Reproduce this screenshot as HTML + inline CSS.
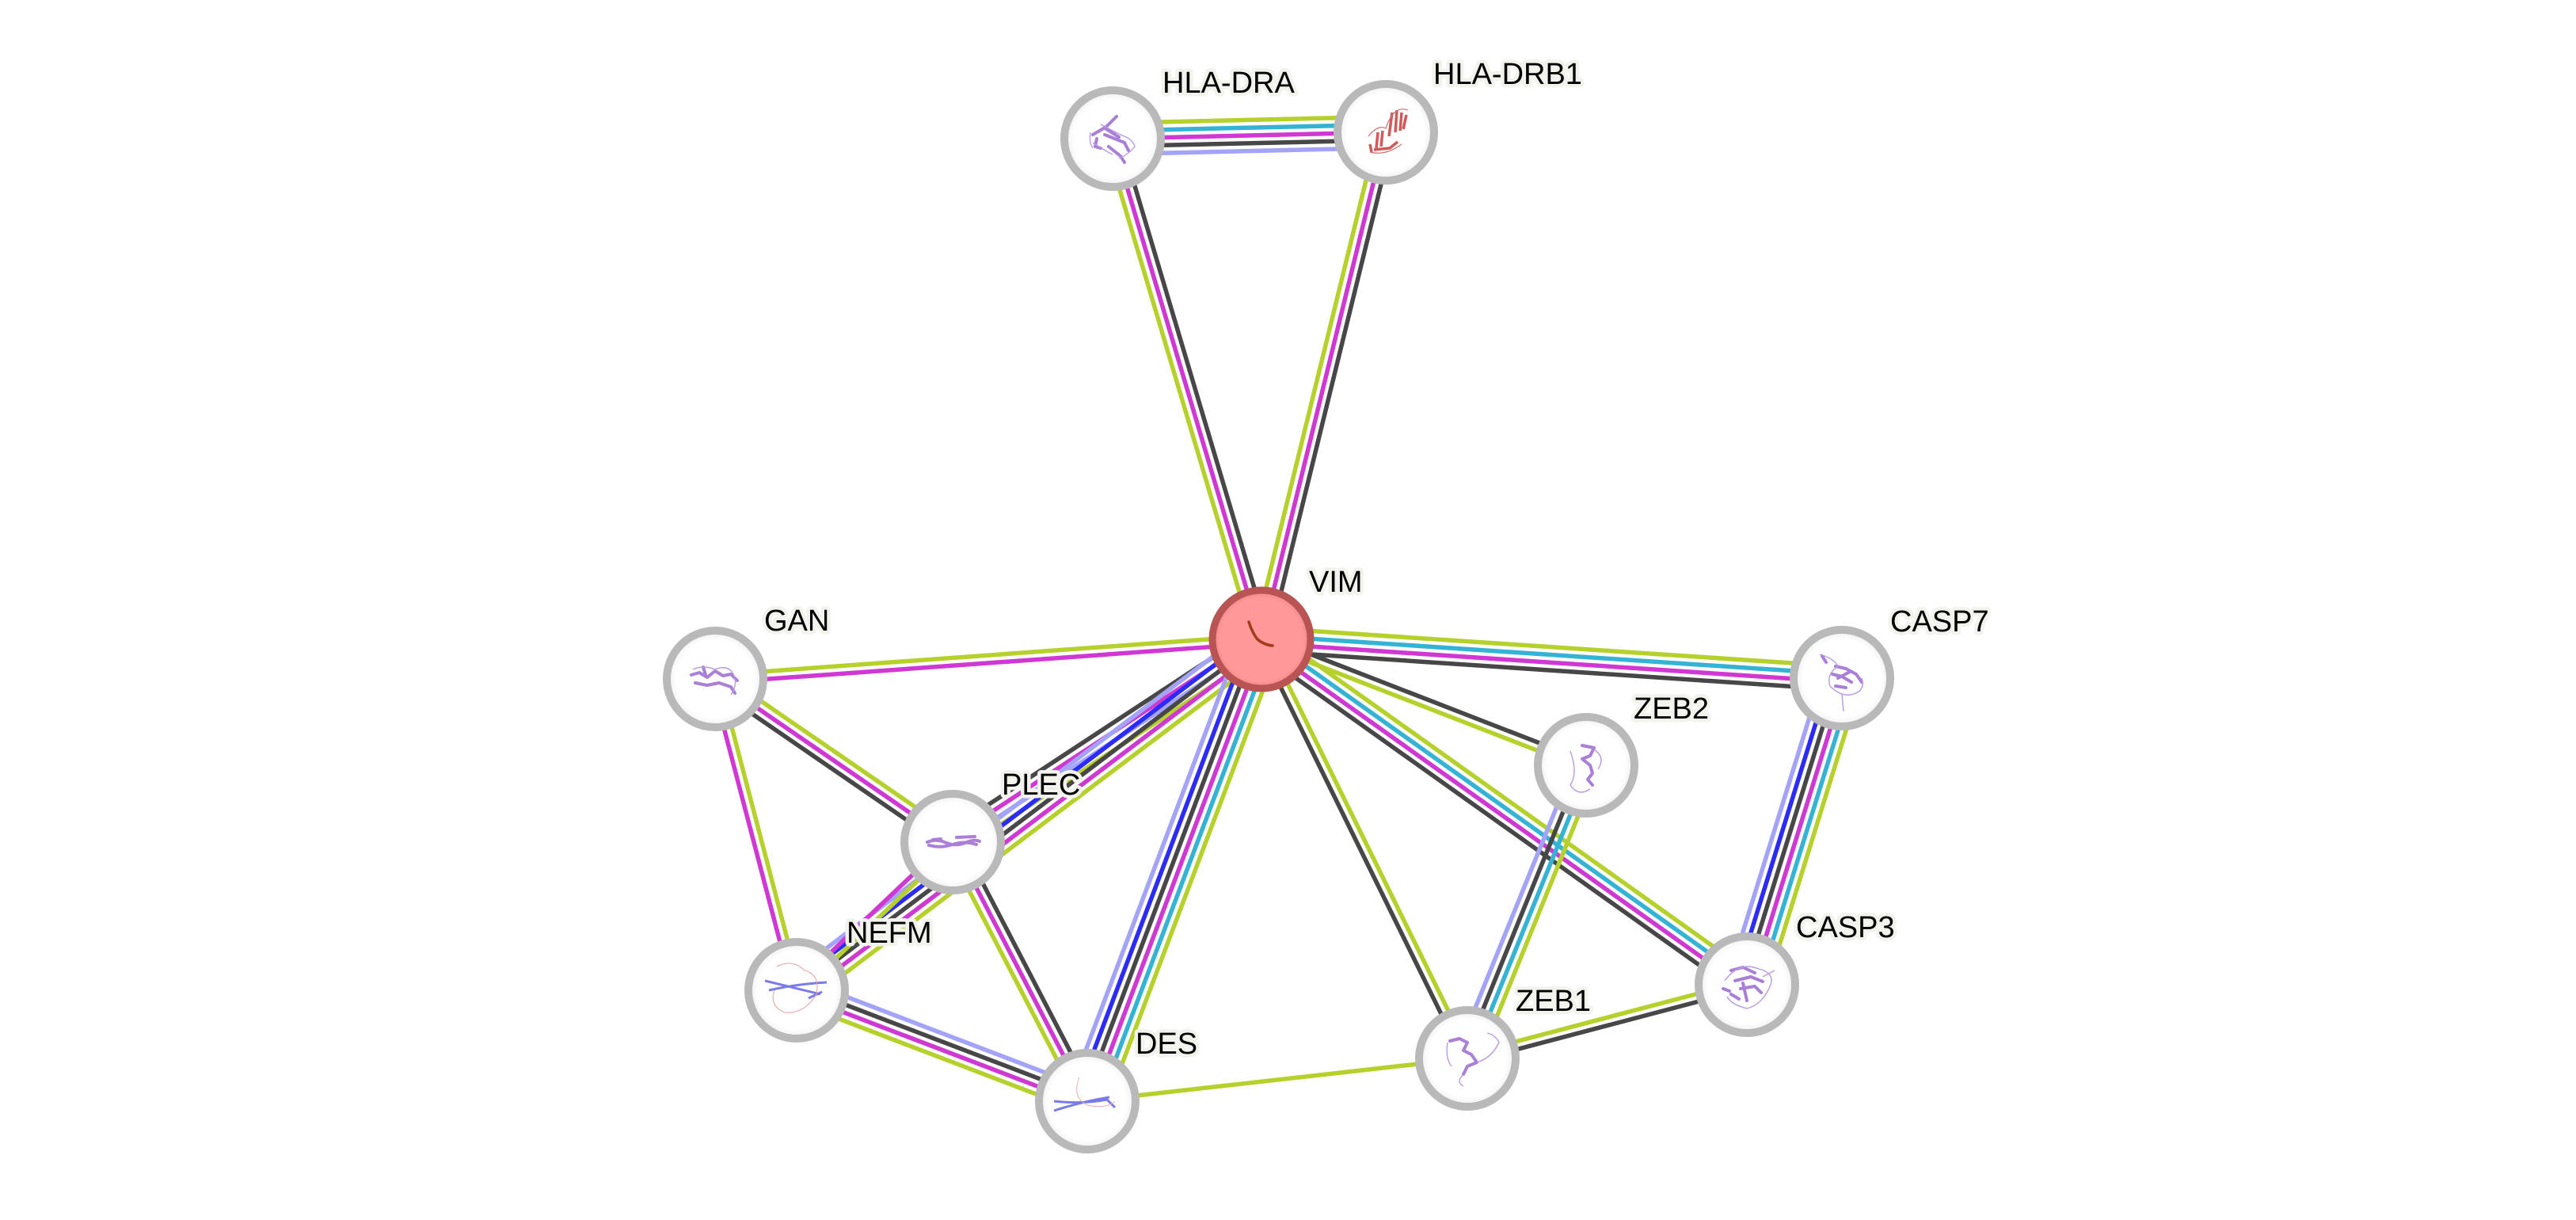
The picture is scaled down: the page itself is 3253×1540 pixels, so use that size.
<!DOCTYPE html>
<html>
<head>
<meta charset="utf-8">
<style>
html,body{margin:0;padding:0;background:#fff;}
svg{display:block;}
.e line{stroke-width:5.5;fill:none;}
.gr{stroke:#b6d02c;}
.cy{stroke:#35b3d4;}
.mg{stroke:#cf38d3;}
.dk{stroke:#474747;}
.lb{stroke:#a3a3fa;}
.bl{stroke:#2b2bfb;}
.lbl{font-family:"Liberation Sans",Arial,sans-serif;font-size:38px;fill:#000;stroke:#f3f3ee;stroke-width:9px;stroke-linejoin:round;paint-order:stroke;}
.nd{fill:url(#ng);stroke:#b9b9b9;stroke-width:10;}
.pp{fill:none;stroke:#a97fd8;stroke-width:4;stroke-linecap:round;stroke-linejoin:round;}
.pt{fill:none;stroke:#b89ae0;stroke-width:1.4;}
</style>
</head>
<body>
<svg width="3253" height="1540" viewBox="0 0 3253 1540" xmlns="http://www.w3.org/2000/svg">
<defs>
<radialGradient id="ng" cx="50%" cy="50%" r="50%">
<stop offset="0.8" stop-color="#ffffff"/>
<stop offset="0.93" stop-color="#f4f4f4"/>
<stop offset="1" stop-color="#d8d8d8"/>
</radialGradient>
<radialGradient id="vg" cx="50%" cy="50%" r="50%">
<stop offset="0.85" stop-color="#ff9898"/>
<stop offset="1" stop-color="#e98484"/>
</radialGradient>
</defs>
<rect width="3253" height="1540" fill="#fff"/>

<!-- edges -->
<g class="e" transform="translate(1405,175) rotate(-1.33)">
<line class="gr" x1="0" y1="-19.6" x2="345" y2="-19.6"/>
<line class="cy" x1="0" y1="-9.8" x2="345" y2="-9.8"/>
<line class="mg" x1="0" y1="0" x2="345" y2="0"/>
<line class="dk" x1="0" y1="9.8" x2="345" y2="9.8"/>
<line class="lb" x1="0" y1="19.6" x2="345" y2="19.6"/>
</g>
<g class="e" transform="translate(1405,175) rotate(73.43)">
<line class="gr" x1="0" y1="9.8" x2="659" y2="9.8"/>
<line class="mg" x1="0" y1="0" x2="659" y2="0"/>
<line class="dk" x1="0" y1="-9.8" x2="659" y2="-9.8"/>
</g>
<g class="e" transform="translate(1750,167) rotate(103.78)">
<line class="gr" x1="0" y1="9.8" x2="659" y2="9.8"/>
<line class="mg" x1="0" y1="0" x2="659" y2="0"/>
<line class="dk" x1="0" y1="-9.8" x2="659" y2="-9.8"/>
</g>
<g class="e" transform="translate(903,857) rotate(-4.14)">
<line class="gr" x1="0" y1="-4.9" x2="692" y2="-4.9"/>
<line class="mg" x1="0" y1="4.9" x2="692" y2="4.9"/>
</g>
<g class="e" transform="translate(903,857) rotate(34.48)">
<line class="dk" x1="0" y1="9.8" x2="364" y2="9.8"/>
<line class="mg" x1="0" y1="0" x2="364" y2="0"/>
<line class="gr" x1="0" y1="-9.8" x2="364" y2="-9.8"/>
</g>
<g class="e" transform="translate(903,857) rotate(75.31)">
<line class="mg" x1="0" y1="4.9" x2="406" y2="4.9"/>
<line class="gr" x1="0" y1="-4.9" x2="406" y2="-4.9"/>
</g>
<g class="e" transform="translate(1203,1063) rotate(-33.28)">
<line class="dk" x1="0" y1="-14.7" x2="467" y2="-14.7"/>
<line class="mg" x1="0" y1="-4.9" x2="467" y2="-4.9"/>
<line class="lb" x1="0" y1="4.9" x2="467" y2="4.9"/>
<line class="gr" x1="0" y1="14.7" x2="467" y2="14.7"/>
</g>
<g class="e" transform="translate(1006,1250) rotate(-37.04)">
<line class="lb" x1="0" y1="-19.6" x2="735" y2="-19.6"/>
<line class="bl" x1="0" y1="-9.8" x2="735" y2="-9.8"/>
<line class="dk" x1="0" y1="0" x2="735" y2="0"/>
<line class="mg" x1="0" y1="9.8" x2="735" y2="9.8"/>
<line class="gr" x1="0" y1="19.6" x2="735" y2="19.6"/>
</g>
<g class="e" transform="translate(1203,1063) rotate(136.51)">
<line class="mg" x1="0" y1="4.9" x2="272" y2="4.9"/>
<line class="gr" x1="0" y1="-4.9" x2="272" y2="-4.9"/>
</g>
<g class="e" transform="translate(1203,1063) rotate(62.53)">
<line class="gr" x1="0" y1="9.8" x2="369" y2="9.8"/>
<line class="mg" x1="0" y1="0" x2="369" y2="0"/>
<line class="dk" x1="0" y1="-9.8" x2="369" y2="-9.8"/>
</g>
<g class="e" transform="translate(1593,807) rotate(110.67)">
<line class="lb" x1="0" y1="24.5" x2="623" y2="24.5"/>
<line class="bl" x1="0" y1="14.7" x2="623" y2="14.7"/>
<line class="dk" x1="0" y1="4.9" x2="623" y2="4.9"/>
<line class="mg" x1="0" y1="-4.9" x2="623" y2="-4.9"/>
<line class="cy" x1="0" y1="-14.7" x2="623" y2="-14.7"/>
<line class="gr" x1="0" y1="-24.5" x2="623" y2="-24.5"/>
</g>
<g class="e" transform="translate(1006,1250) rotate(20.88)">
<line class="lb" x1="0" y1="-14.7" x2="393" y2="-14.7"/>
<line class="dk" x1="0" y1="-4.9" x2="393" y2="-4.9"/>
<line class="mg" x1="0" y1="4.9" x2="393" y2="4.9"/>
<line class="gr" x1="0" y1="14.7" x2="393" y2="14.7"/>
</g>
<g class="e" transform="translate(1373,1390) rotate(-6.42)">
<line class="gr" x1="0" y1="0" x2="483" y2="0"/>
</g>
<g class="e" transform="translate(1593,807) rotate(63.83)">
<line class="dk" x1="0" y1="4.9" x2="589" y2="4.9"/>
<line class="gr" x1="0" y1="-4.9" x2="589" y2="-4.9"/>
</g>
<g class="e" transform="translate(1593,807) rotate(21.20)">
<line class="dk" x1="0" y1="-4.9" x2="440" y2="-4.9"/>
<line class="gr" x1="0" y1="4.9" x2="440" y2="4.9"/>
</g>
<g class="e" transform="translate(1593,807) rotate(35.42)">
<line class="dk" x1="0" y1="14.7" x2="752" y2="14.7"/>
<line class="mg" x1="0" y1="4.9" x2="752" y2="4.9"/>
<line class="cy" x1="0" y1="-4.9" x2="752" y2="-4.9"/>
<line class="gr" x1="0" y1="-14.7" x2="752" y2="-14.7"/>
</g>
<g class="e" transform="translate(1593,807) rotate(3.82)">
<line class="gr" x1="0" y1="-14.7" x2="735" y2="-14.7"/>
<line class="cy" x1="0" y1="-4.9" x2="735" y2="-4.9"/>
<line class="mg" x1="0" y1="4.9" x2="735" y2="4.9"/>
<line class="dk" x1="0" y1="14.7" x2="735" y2="14.7"/>
</g>
<g class="e" transform="translate(2003,966) rotate(112.07)">
<line class="lb" x1="0" y1="14.7" x2="399" y2="14.7"/>
<line class="dk" x1="0" y1="4.9" x2="399" y2="4.9"/>
<line class="cy" x1="0" y1="-4.9" x2="399" y2="-4.9"/>
<line class="gr" x1="0" y1="-14.7" x2="399" y2="-14.7"/>
</g>
<g class="e" transform="translate(2326,856) rotate(107.23)">
<line class="lb" x1="0" y1="24.5" x2="405" y2="24.5"/>
<line class="bl" x1="0" y1="14.7" x2="405" y2="14.7"/>
<line class="dk" x1="0" y1="4.9" x2="405" y2="4.9"/>
<line class="mg" x1="0" y1="-4.9" x2="405" y2="-4.9"/>
<line class="cy" x1="0" y1="-14.7" x2="405" y2="-14.7"/>
<line class="gr" x1="0" y1="-24.5" x2="405" y2="-24.5"/>
</g>
<g class="e" transform="translate(1853,1336) rotate(-14.76)">
<line class="gr" x1="0" y1="-4.9" x2="365" y2="-4.9"/>
<line class="dk" x1="0" y1="4.9" x2="365" y2="4.9"/>
</g>

<!-- nodes -->
<circle class="nd" cx="1405" cy="175" r="61"/>
<circle class="nd" cx="1750" cy="167" r="61"/>
<circle class="nd" cx="903" cy="857" r="61"/>
<circle class="nd" cx="1203" cy="1063" r="61"/>
<circle class="nd" cx="1006" cy="1250" r="61"/>
<circle class="nd" cx="1373" cy="1390" r="61"/>
<circle class="nd" cx="1853" cy="1336" r="61"/>
<circle class="nd" cx="2003" cy="966" r="61"/>
<circle class="nd" cx="2206" cy="1243" r="61"/>
<circle class="nd" cx="2326" cy="856" r="61"/>
<circle cx="1593" cy="807" r="62" fill="url(#vg)" stroke="#b85454" stroke-width="9"/>

<!-- protein glyphs -->
<path d="M1577,785 Q1582,800 1588,807 Q1596,814 1607,815" fill="none" stroke="#a33a1a" stroke-width="3.5" stroke-linecap="round"/>
<g transform="translate(1405,175)">
<path class="pp" d="M-25,-5 L-8,-15 L5,-28 M-10,-5 L15,5 L20,15 M-5,10 L10,22 L15,30 M-20,0 L-22,10 L-15,12 M-8,-12 L8,-2"/>
<path class="pt" d="M-15,-18 Q0,-10 12,-4 Q25,0 28,10 Q20,20 8,25 M-25,5 Q-10,15 0,20 M-28,-8 Q-30,5 -25,12"/>
</g>
<g transform="translate(1750,167)">
<path fill="none" stroke="#d05a5a" stroke-width="3.5" d="M8,-25 L4,5 M14,-28 L12,0 M20,-25 L18,-2 M26,-22 L22,-4 M-10,0 L-12,20 M-4,-2 L-6,18 M-20,15 L-18,25 M-15,22 L5,20 L15,12"/>
<path fill="none" stroke="#d07070" stroke-width="1.2" d="M-22,5 Q-10,-10 0,-5 Q10,-35 28,-28 M-20,25 Q0,30 20,15"/>
</g>
<g transform="translate(903,857)">
<path class="pp" stroke-width="5" d="M-30,-5 L-20,-8 L-10,-2 L0,-10 L10,-4 L20,-6 L28,2 M-25,5 L-10,8 L5,5 L20,10 L25,18 M-15,-15 L-12,-5"/>
<path class="pt" d="M-28,-12 Q-15,-18 0,-12 Q15,-18 22,-8 Q30,5 20,20"/>
</g>
<g transform="translate(1203,1063)">
<path class="pp" stroke-width="3" d="M-32,0 Q-20,-5 -8,1 Q5,6 18,0 Q28,-4 34,-1 M-30,4 Q-15,8 0,3 Q15,-2 30,3 M-25,-3 L-15,-4 M5,-6 L28,-7"/>
</g>
<g transform="translate(1006,1250)">
<path fill="none" stroke="#7a7ae8" stroke-width="3" d="M-40,-12 L30,5 M-35,0 Q0,-8 38,-10 M15,10 L32,2"/>
<path fill="none" stroke="#e8a0a0" stroke-width="1" d="M-25,-30 Q-5,-40 10,-25 Q30,-20 25,5 Q10,30 -15,28 Q-35,20 -28,0"/>
</g>
<g transform="translate(1373,1390)">
<path fill="none" stroke="#7a7ae8" stroke-width="3" d="M-42,12 Q-5,0 28,-5 M-42,0 Q-5,4 25,-2 L35,8"/>
<path fill="none" stroke="#eab0b0" stroke-width="1" d="M-10,-30 Q-20,-5 0,5 Q25,10 35,0"/>
</g>
<g transform="translate(1853,1336)">
<path class="pp" stroke-width="6" d="M-22,-22 L-10,-25 L0,-20 L-5,-10 L5,-5 L12,5 L0,10 L-5,20"/>
<path class="pt" d="M-25,-20 Q-28,0 -20,10 M12,5 Q30,0 40,-20 Q35,-30 25,-32 M-5,20 Q-15,30 -5,35"/>
</g>
<g transform="translate(2003,966)">
<path class="pp" stroke-width="5.5" d="M-5,-25 L10,-22 L5,-12 L-5,-8 L5,0 L8,10 L2,18 L8,25"/>
<path class="pt" d="M-20,-18 Q-10,10 -20,25 Q-10,40 5,30 M10,-20 Q25,-10 15,5"/>
</g>
<g transform="translate(2206,1243)">
<path class="pp" stroke-width="5" d="M-20,-18 L-5,-22 L10,-15 M-15,-5 L5,-10 L20,-4 M-8,5 L10,2 L18,10 M-20,12 L-10,18 M-30,5 L-22,8 M-5,-2 L0,20"/>
<path class="pt" d="M-28,-5 Q-10,-30 15,-20 Q35,-15 30,0 Q20,25 0,30 Q-20,25 -25,15 M20,-10 L35,-18"/>
</g>
<g transform="translate(2326,856)">
<path class="pp" stroke-width="5" d="M-8,-15 L5,-12 L18,-5 L25,5 M-12,-5 L0,-2 L12,5 M-8,10 L5,12 M-25,-28 L-20,-20 M-5,0 L10,-8"/>
<path class="pt" d="M-28,-30 Q-10,-25 -5,-15 Q-20,-5 -15,10 Q0,25 15,20 Q30,15 25,0 M0,20 L2,42"/>
</g>

<!-- labels -->
<text class="lbl" x="1468" y="117">HLA-DRA</text>
<text class="lbl" x="1810" y="106">HLA-DRB1</text>
<text class="lbl" x="1653" y="747">VIM</text>
<text class="lbl" x="965" y="796">GAN</text>
<text class="lbl" x="1265" y="1003">PLEC</text>
<text class="lbl" x="1069" y="1190">NEFM</text>
<text class="lbl" x="1434" y="1330">DES</text>
<text class="lbl" x="2063" y="907">ZEB2</text>
<text class="lbl" x="1914" y="1276">ZEB1</text>
<text class="lbl" x="2268" y="1183">CASP3</text>
<text class="lbl" x="2387" y="797">CASP7</text>
</svg>
</body>
</html>
